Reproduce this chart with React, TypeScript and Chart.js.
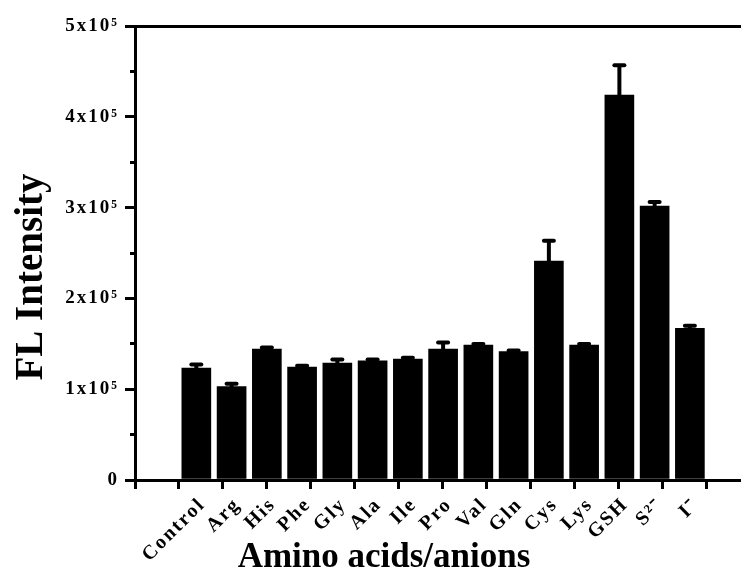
import React, { useEffect, useRef } from 'react';
import { Chart, registerables } from 'chart.js';

Chart.register(...registerables);

// ---- data ----
const categories = ['Control', 'Arg', 'His', 'Phe', 'Gly', 'Ala', 'Ile', 'Pro', 'Val', 'Gln', 'Cys', 'Lys', 'GSH', 'S²⁻', 'I⁻'];
const values = [123300, 103000, 144300, 124400, 128800, 131300, 133200, 144300, 148700, 141300, 241000, 148700, 423800, 301700, 167000];
const errors = [4000, 3000, 1500, 1500, 4000, 1500, 1500, 7000, 1200, 1200, 22500, 1200, 33000, 4400, 3000];
const yTickLabels = ['0', '1x10⁵', '2x10⁵', '3x10⁵', '4x10⁵', '5x10⁵'];
const xTitle = 'Amino acids/anions';
const yTitle = 'FL Intensity';

// ---- layout / style ----
const W = 741;
const H = 571;
const X_MIN = -1.74;
const X_MAX = 15.45;
const X_TICK_STEP = 1.248;
const X_TICK_COUNT = 14;
const Y_MAX = 500000;
const FONT = "'Liberation Serif', 'Times New Roman', serif";

const spacingPlugin = {
  id: 'tickSpacing',
  beforeDraw(chart: any) {
    try {
      (chart.ctx as any).letterSpacing = '2px';
    } catch (e) {}
  },
  afterDatasetsDraw(chart: any) {
    try {
      (chart.ctx as any).letterSpacing = '0px';
    } catch (e) {}
  },
};

const errorBarPlugin = {
  id: 'errorBars',
  afterDatasetsDraw(chart: any) {
    const { ctx } = chart;
    const meta = chart.getDatasetMeta(0);
    const yScale = chart.scales.y;
    ctx.save();
    ctx.strokeStyle = '#000';
    meta.data.forEach((bar: any, i: number) => {
      const top = yScale.getPixelForValue(values[i] + errors[i]);
      ctx.lineCap = 'butt';
      ctx.lineWidth = 4;
      ctx.beginPath();
      ctx.moveTo(bar.x, bar.y + 1);
      ctx.lineTo(bar.x, top);
      ctx.stroke();
      ctx.lineCap = 'round';
      ctx.lineWidth = 4;
      ctx.beginPath();
      ctx.moveTo(bar.x - 5, top);
      ctx.lineTo(bar.x + 5, top);
      ctx.stroke();
    });
    ctx.restore();
  },
};

const axisTitlePlugin = {
  id: 'axisTitles',
  afterDraw(chart: any) {
    const { ctx, chartArea } = chart;
    ctx.save();
    try {
      (ctx as any).letterSpacing = '0px';
    } catch (e) {}
    ctx.fillStyle = '#000';
    ctx.textAlign = 'center';
    ctx.textBaseline = 'alphabetic';
    ctx.font = `bold 35px ${FONT}`;
    ctx.fillText(xTitle, chartArea.left + 249, chartArea.bottom + 87);
    ctx.translate(chartArea.left - 93, chartArea.top + 251);
    ctx.rotate(-Math.PI / 2);
    ctx.font = `bold 39px ${FONT}`;
    ctx.fillText(yTitle, 0, 0);
    ctx.restore();
  },
};

export default function App() {
  const canvasRef = useRef<HTMLCanvasElement | null>(null);

  useEffect(() => {
    if (!canvasRef.current) return;
    const yFont = { family: FONT, size: 19, weight: 'bold' as const };
    const xFont = { family: FONT, size: 20, weight: 'bold' as const };
    const chart = new Chart(canvasRef.current, {
      type: 'bar',
      data: {
        datasets: [
          {
            data: categories.map((_, i) => ({ x: i, y: values[i] })),
            backgroundColor: '#000',
            borderWidth: 0,
            barThickness: 29,
            xAxisID: 'x',
            yAxisID: 'y',
          },
        ],
      },
      options: {
        animation: false,
        responsive: false,
        devicePixelRatio: 1,
        layout: { padding: { top: 26, left: 0, right: 0, bottom: 0 } },
        plugins: { legend: { display: false }, tooltip: { enabled: false } },
        scales: {
          x: {
            type: 'linear',
            position: 'bottom',
            offset: false,
            min: X_MIN,
            max: X_MAX,
            afterBuildTicks: (s: any) => {
              s.ticks = categories.map((_, i) => ({ value: i }));
            },
            afterFit: (s: any) => {
              s.height = H - 480;
            },
            ticks: {
              autoSkip: false,
              minRotation: 45,
              maxRotation: 45,
              padding: 13,
              labelOffset: 6,
              color: '#000',
              font: xFont,
              callback: (_v: any, i: number) => categories[i],
            },
            grid: { display: false, drawTicks: false, offset: false },
            border: { display: false },
          },
          x2: {
            type: 'linear',
            axis: 'x',
            position: { y: 0 },
            offset: false,
            min: X_MIN,
            max: X_MAX,
            afterBuildTicks: (s: any) => {
              s.ticks = Array.from({ length: X_TICK_COUNT }, (_, k) => ({ value: X_MIN + k * X_TICK_STEP }));
            },
            ticks: { autoSkip: false, callback: () => '' },
            grid: { drawOnChartArea: false, drawTicks: true, tickLength: 7, tickWidth: 3, tickColor: '#000', offset: false },
            border: { display: true, color: '#000', width: 3 },
          },
          y: {
            type: 'linear',
            position: 'left',
            min: 0,
            max: Y_MAX,
            afterFit: (s: any) => {
              s.width = 135;
            },
            ticks: {
              stepSize: 100000,
              padding: 6,
              color: '#000',
              font: yFont,
              callback: (_v: any, i: number) => yTickLabels[i],
            },
            grid: {
              color: (c: any) => (c.tick && c.tick.value === Y_MAX ? '#000' : 'rgba(0,0,0,0)'),
              lineWidth: 3,
              drawTicks: true,
              tickLength: 10,
              tickWidth: 3,
              tickColor: '#000',
            },
            border: { display: true, color: '#000', width: 3 },
          },
          y2: {
            type: 'linear',
            axis: 'y',
            position: { x: X_MIN },
            min: 0,
            max: Y_MAX,
            ticks: { stepSize: 50000, callback: () => '' },
            grid: { drawOnChartArea: false, drawTicks: true, tickLength: 5, tickWidth: 3, tickColor: '#000' },
            border: { display: false },
          },
        },
      } as any,
      plugins: [spacingPlugin, errorBarPlugin, axisTitlePlugin],
    });
    return () => chart.destroy();
  }, []);

  return (
    <div style={{ position: 'fixed', left: 0, top: 0, width: W, height: H, background: '#fff' }}>
      <canvas ref={canvasRef} width={W} height={H} />
    </div>
  );
}
